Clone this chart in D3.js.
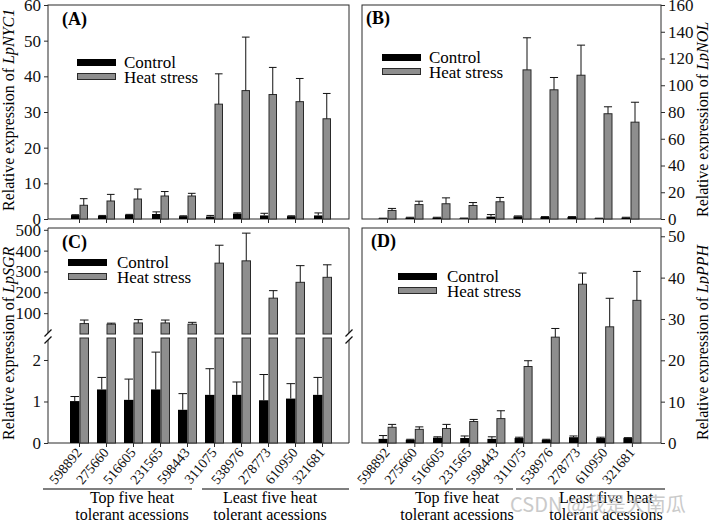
<!DOCTYPE html>
<html><head><meta charset="utf-8">
<script src="https://cdn.jsdelivr.net/npm/d3@7"></script>
<style>body{margin:0;background:#fff}svg{display:block}</style>
</head><body><svg id="c" width="709" height="522"></svg>
<script>
const accessions = ["598892","275660","516605","231565","598443","311075","538976","278773","610950","321681"];
const groupTop = ["Top five heat", "tolerant acessions"];
const groupLeast = ["Least five heat", "tolerant acessions"];
const seriesNames = ["Control", "Heat stress"];

const nyc1Control = [1.1,0.9,1.2,1.4,0.8,0.7,1.5,1.0,0.8,1.0];
const nyc1ControlErr = [0.1,0.1,0.1,0.6,0.1,0.3,0.2,0.6,0.1,0.7];
const nyc1Heat = [3.85,5.05,5.6,6.45,6.45,32.2,36.0,34.9,32.9,28.1];
const nyc1HeatErr = [1.85,1.85,2.8,1.25,0.75,8.5,15.0,7.6,6.5,7.1];

const nolControl = [0.4,1.0,1.0,0.5,1.8,2.0,1.5,1.5,0.4,1.0];
const nolControlErr = [0.2,0.3,0.3,0.2,1.5,0.3,0.3,0.3,0.2,0.3];
const nolHeat = [6.4,10.8,11.4,10.1,12.9,111.5,96.6,107.5,78.7,72.4];
const nolHeatErr = [1.5,2.5,4.4,2.2,3.2,24.0,9.2,22.5,5.2,14.9];

const sgrControl = [1.01,1.29,1.04,1.29,0.80,1.16,1.16,1.03,1.07,1.16];
const sgrControlErr = [0.11,0.29,0.50,0.90,0.39,0.63,0.31,0.62,0.36,0.42];
const sgrHeat = [50,47,53,53,47,340,351,172,248,272];
const sgrHeatErr = [17,5,16,14,9,86,133,36,80,60];

const pphControl = [1.0,0.8,1.3,1.2,1.0,1.2,0.8,1.4,1.2,1.2];
const pphControlErr = [0.8,0.1,0.2,0.5,0.5,0.2,0.1,0.3,0.2,0.1];
const pphHeat = [3.8,3.3,3.5,5.2,5.9,18.5,25.6,38.4,28.1,34.5];
const pphHeatErr = [0.7,0.6,1.0,0.5,1.9,1.4,2.1,2.7,6.9,7.0];

const ticksA = [0,10,20,30,40,50,60];
const ticksB = [0,20,40,60,80,100,120,140,160];
const ticksCUpper = [100,200,300,400,500];
const ticksCLower = [0,1,2];
const ticksD = [0,10,20,30,40,50];

const SERIF = '"Liberation Serif"';
const GRAY = "#8e8e8e", EDGE = "#2a2a2a";
const svg = d3.select("#c");

function styleAxis(g){
  g.attr("font-family", null).attr("font-size", null);
  g.select(".domain").remove();
  g.selectAll("line").attr("stroke", EDGE);
  g.selectAll("text").style("font-family", SERIF).style("font-size","17px").attr("fill","#111");
}

function drawXAxis(p, xb, labels){
  const g = svg.append("g").attr("transform",`translate(0,${p.y1})`)
    .call(d3.axisBottom(xb).tickSize(4).tickSizeOuter(0));
  styleAxis(g);
  if (!labels) { g.selectAll("text").remove(); return; }
  g.selectAll("text").attr("x",0).attr("y",0).attr("dy",0)
    .attr("transform","translate(3,10) rotate(-50)")
    .style("text-anchor","end").style("font-size","14px");
}

function errBar(cx, yTop, yErr, w){
  svg.append("line").attr("x1",cx).attr("x2",cx).attr("y1",yTop).attr("y2",yErr).attr("stroke","#111");
  svg.append("line").attr("x1",cx-w/2).attr("x2",cx+w/2).attr("y1",yErr).attr("y2",yErr).attr("stroke","#111");
}

function legend(x, y, textX){
  svg.append("rect").attr("x",x).attr("y",y).attr("width",39).attr("height",7).attr("fill","#000");
  svg.append("rect").attr("x",x+0.5).attr("y",y+14.5).attr("width",38).attr("height",6).attr("fill",GRAY).attr("stroke",EDGE);
  svg.append("text").attr("x",textX).attr("y",y+9).text(seriesNames[0])
    .style("font-family",SERIF).style("font-size","17px");
  svg.append("text").attr("x",textX).attr("y",y+23.5).text(seriesNames[1])
    .style("font-family",SERIF).style("font-size","17px");
}

function panelLabel(t, x, y){
  svg.append("text").attr("x",x).attr("y",y).text(t)
    .style("font-family",SERIF).style("font-size","18px").style("font-weight","bold");
}

function yTitle(gene, x, y){
  const t = svg.append("text").attr("transform",`translate(${x},${y}) rotate(-90)`)
    .style("font-family",SERIF).style("font-size","16px").attr("text-anchor","start");
  t.append("tspan").text("Relative expression of ");
  t.append("tspan").style("font-style","italic").text(gene);
}

function simplePanel(p){
  const xb = d3.scaleBand().domain(accessions).range(p.band);
  const y = d3.scaleLinear().domain(p.dom).range([p.y1, p.y0]);
  svg.append("rect").attr("x",p.x0).attr("y",p.y0).attr("width",p.x1-p.x0).attr("height",p.y1-p.y0)
    .attr("fill","none").attr("stroke",EDGE);
  const ax = p.side==="left" ? d3.axisLeft(y) : d3.axisRight(y);
  const g = svg.append("g").attr("transform",`translate(${p.side==="left"?p.x0:p.x1},0)`)
    .call(ax.tickValues(p.ticks).tickSize(4).tickPadding(3).tickFormat(d3.format("d")));
  styleAxis(g);
  accessions.forEach((a,i)=>{
    const cx = xb(a)+xb.bandwidth()/2;
    svg.append("rect").attr("x",cx-p.bw).attr("y",y(p.ctrl[i])).attr("width",p.bw)
      .attr("height",y(0)-y(p.ctrl[i])).attr("fill","#000");
    errBar(cx-p.bw/2, y(p.ctrl[i]), y(p.ctrl[i]+p.ctrlErr[i]), p.bw*0.9);
    svg.append("rect").attr("x",cx+0.5).attr("y",y(p.heat[i])).attr("width",p.bw-1)
      .attr("height",y(0)-y(p.heat[i])).attr("fill",GRAY).attr("stroke",EDGE);
    errBar(cx+p.bw/2, y(p.heat[i]), y(p.heat[i]+p.heatErr[i]), p.bw*0.9);
  });
  drawXAxis(p, xb, p.labels);
}

// Panel A
simplePanel({x0:48,x1:349,y0:5,y1:219,band:[66,336],bw:8.5,dom:[0,60],ticks:ticksA,side:"left",labels:false,
  ctrl:nyc1Control,ctrlErr:nyc1ControlErr,heat:nyc1Heat,heatErr:nyc1HeatErr});
legend(77,59,124);
panelLabel("(A)",62,25);
yTitle("LpNYC1",13.5,211);

// Panel B
simplePanel({x0:362,x1:661,y0:5,y1:219,band:[374,644],bw:9,dom:[0,160],ticks:ticksB,side:"right",labels:false,
  ctrl:nolControl,ctrlErr:nolControlErr,heat:nolHeat,heatErr:nolHeatErr});
legend(382,54,429);
panelLabel("(B)",366,24);
yTitle("LpNOL",708,217);

// Panel D
simplePanel({x0:362,x1:661,y0:228,y1:443,band:[374,646],bw:9,dom:[0,52],ticks:ticksD,side:"right",labels:true,
  ctrl:pphControl,ctrlErr:pphControlErr,heat:pphHeat,heatErr:pphHeatErr});
legend(398,273,447);
panelLabel("(D)",371,247);
yTitle("LpPPH",708,440);

// Panel C (broken axis)
(function(){
  const p = {x0:48,x1:349,y0:228,y1:443,band:[66,336],bw:9.5};
  const xb = d3.scaleBand().domain(accessions).range(p.band);
  const yL = d3.scaleLinear().domain([0,2.53]).range([443,338]);
  const yU = d3.scaleLinear().domain([0,500]).range([334,229.8]);
  const brk1 = 333, brk2 = 340;
  svg.append("line").attr("x1",p.x0).attr("x2",p.x1).attr("y1",p.y0).attr("y2",p.y0).attr("stroke",EDGE);
  svg.append("line").attr("x1",p.x0).attr("x2",p.x1).attr("y1",p.y1).attr("y2",p.y1).attr("stroke",EDGE);
  [p.x0,p.x1].forEach(x=>{
    svg.append("line").attr("x1",x).attr("x2",x).attr("y1",p.y0).attr("y2",brk1).attr("stroke",EDGE);
    svg.append("line").attr("x1",x).attr("x2",x).attr("y1",brk2).attr("y2",p.y1).attr("stroke",EDGE);
    [brk1,brk2].forEach(b=>{
      svg.append("line").attr("x1",x-3.5).attr("x2",x+3.5).attr("y1",b+3.5).attr("y2",b-3.5)
        .attr("stroke","#111").attr("stroke-width",1.2);
    });
  });
  const gU = svg.append("g").attr("transform",`translate(${p.x0},0)`)
    .call(d3.axisLeft(yU).tickValues(ticksCUpper).tickSize(4).tickPadding(3).tickFormat(d3.format("d")));
  styleAxis(gU);
  const gL = svg.append("g").attr("transform",`translate(${p.x0},0)`)
    .call(d3.axisLeft(yL).tickValues(ticksCLower).tickSize(4).tickPadding(3).tickFormat(d3.format("d")));
  styleAxis(gL);
  const lowTop = yL.domain()[1];
  accessions.forEach((a,i)=>{
    const cx = xb(a)+xb.bandwidth()/2;
    svg.append("rect").attr("x",cx-p.bw).attr("y",yL(sgrControl[i])).attr("width",p.bw)
      .attr("height",yL(0)-yL(sgrControl[i])).attr("fill","#000");
    errBar(cx-p.bw/2, yL(sgrControl[i]), yL(sgrControl[i]+sgrControlErr[i]), p.bw*0.9);
    svg.append("rect").attr("x",cx+0.5).attr("y",yL(lowTop)).attr("width",p.bw-1)
      .attr("height",yL(0)-yL(lowTop)).attr("fill",GRAY).attr("stroke",EDGE);
    svg.append("rect").attr("x",cx+0.5).attr("y",yU(sgrHeat[i])).attr("width",p.bw-1)
      .attr("height",yU(0)-yU(sgrHeat[i])).attr("fill",GRAY).attr("stroke",EDGE);
    errBar(cx+p.bw/2, yU(sgrHeat[i]), yU(sgrHeat[i]+sgrHeatErr[i]), p.bw*0.9);
  });
  drawXAxis(p, xb, true);
})();
legend(68,259,117);
panelLabel("(C)",62,248);
yTitle("LpSGR",13.5,440);

function groupLabel(lines, x1, x2, cx){
  svg.append("line").attr("x1",x1).attr("x2",x2).attr("y1",489).attr("y2",489)
    .attr("stroke","#555").attr("stroke-width",1.3);
  lines.forEach((t,k)=>{
    svg.append("text").attr("x",cx).attr("y",503+k*17).attr("text-anchor","middle").text(t)
      .style("font-family",SERIF).style("font-size","16px");
  });
}
groupLabel(groupTop,43,192,132);
groupLabel(groupLeast,202,349,270);
groupLabel(groupTop,360,513,457);
groupLabel(groupLeast,516,665,606);

svg.append("text").attr("x",510).attr("y",512).text("CSDN @我是大南瓜")
  .style("font-family","'Noto Sans CJK SC'").style("font-size","20px")
  .attr("fill","#bdbdbd").attr("opacity",0.8);
</script></body></html>
